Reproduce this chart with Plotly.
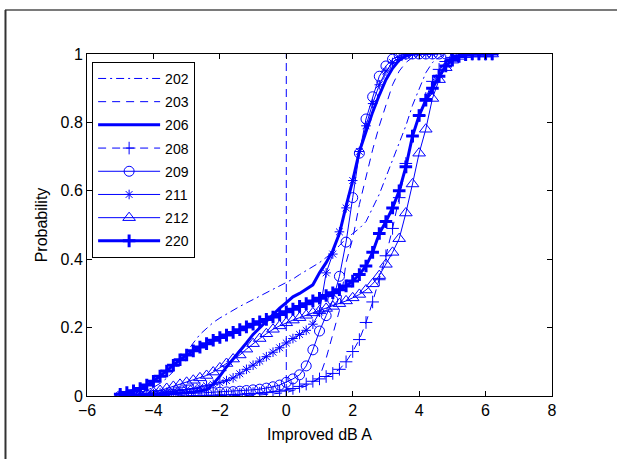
import plotly.graph_objects as go

# shared x grid (dB), step 0.2 from -5.0 to 6.2
X = [-5.0, -4.8, -4.6, -4.4, -4.2, -4.0, -3.8, -3.6, -3.4, -3.2,
     -3.0, -2.8, -2.6, -2.4, -2.2, -2.0, -1.8, -1.6, -1.4, -1.2,
     -1.0, -0.8, -0.6, -0.4, -0.2, 0.0, 0.2, 0.4, 0.6, 0.8,
     1.0, 1.2, 1.4, 1.6, 1.8, 2.0, 2.2, 2.4, 2.6, 2.8,
     3.0, 3.2, 3.4, 3.6, 3.8, 4.0, 4.2, 4.4, 4.6, 4.8,
     5.0, 5.2, 5.4, 5.6, 5.8, 6.0, 6.2]

N = None
Y202 = [0.0, 0.002, 0.005, 0.01, 0.017, 0.025, 0.037, 0.052, 0.072, 0.1,
        0.128, 0.155, 0.18, 0.198, 0.215, 0.228, 0.24, 0.251, 0.262, 0.272,
        0.282, 0.292, 0.302, 0.312, 0.322, 0.332, 0.342, 0.355, 0.367, 0.378,
        0.39, 0.405, 0.42, 0.44, 0.46, 0.475, 0.49, 0.51, 0.55, 0.59,
        0.64, 0.69, 0.745, 0.79, 0.85, 0.9, 0.945, 0.975, 0.99, 1.0,
        N, N, N, N, N, N, N]
Y203 = [0.0, 0.0, 0.0, 0.0, 0.0, 0.0, 0.0, 0.0, 0.0, 0.0,
        0.0, 0.0, 0.001, 0.001, 0.001, 0.001, 0.001, 0.002, 0.002, 0.002,
        0.002, 0.003, 0.004, 0.006, 0.008, 0.01, 0.015, 0.022, 0.03, 0.04,
        0.055, 0.11, 0.18, 0.25, 0.39, 0.46, 0.56, 0.64, 0.72, 0.79,
        0.85, 0.91, 0.95, 0.975, 0.99, 1.0, N, N, N, N,
        N, N, N, N, N, N, N]
Y206 = [0.0, 0.0, 0.0, 0.001, 0.002, 0.003, 0.004, 0.005, 0.006, 0.008,
        0.01, 0.012, 0.014, 0.018, 0.035, 0.058, 0.085, 0.108, 0.13, 0.155,
        0.18, 0.2, 0.22, 0.24, 0.257, 0.273, 0.29, 0.3, 0.312, 0.325,
        0.36, 0.39, 0.425, 0.475, 0.555, 0.63, 0.715, 0.775, 0.83, 0.88,
        0.925, 0.958, 0.982, 0.994, 1.0, 1.0, N, N, N, N,
        N, N, N, N, N, N, N]
Y208 = [N, N, N, N, N, N, N, N, N, N,
        0.0, 0.001, 0.001, 0.002, 0.002, 0.003, 0.003, 0.004, 0.005, 0.006,
        0.007, 0.008, 0.01, 0.012, 0.014, 0.017, 0.022, 0.028, 0.035, 0.043,
        0.05, 0.057, 0.066, 0.078, 0.1, 0.13, 0.165, 0.215, 0.275, 0.34,
        0.41, 0.49, 0.58, 0.68, 0.76, 0.82, 0.87, 0.92, 0.955, 0.978,
        0.99, 0.997, 1.0, 1.0, 1.0, 1.0, 1.0]
Y209 = [0.0, 0.0, 0.0, 0.0, 0.001, 0.002, 0.002, 0.003, 0.004, 0.005,
        0.006, 0.007, 0.008, 0.009, 0.01, 0.011, 0.012, 0.013, 0.014, 0.016,
        0.018, 0.02, 0.023, 0.027, 0.032, 0.04, 0.05, 0.062, 0.088, 0.135,
        0.19, 0.235, 0.28, 0.35, 0.45, 0.58, 0.71, 0.81, 0.875, 0.935,
        0.965, 0.985, 0.995, 1.0, 1.0, 1.0, 1.0, 1.0, 1.0, 1.0,
        N, N, N, N, N, N, N]
Y211 = [0.0, 0.001, 0.002, 0.003, 0.005, 0.007, 0.009, 0.011, 0.013, 0.016,
        0.019, 0.022, 0.026, 0.03, 0.034, 0.039, 0.045, 0.053, 0.065, 0.078,
        0.09, 0.102, 0.115, 0.128, 0.141, 0.155, 0.168, 0.18, 0.192, 0.21,
        0.245, 0.36, 0.415, 0.48, 0.55, 0.63, 0.715, 0.79, 0.855, 0.91,
        0.95, 0.975, 0.99, 0.997, 1.0, 1.0, 1.0, 1.0, N, N,
        N, N, N, N, N, N, N]
Y212 = [0.0, 0.001, 0.003, 0.005, 0.008, 0.011, 0.016, 0.022, 0.028, 0.034,
        0.04, 0.046, 0.053, 0.06, 0.07, 0.082, 0.095, 0.108, 0.12, 0.137,
        0.153, 0.168, 0.182, 0.195, 0.205, 0.214, 0.222, 0.229, 0.236, 0.243,
        0.249, 0.256, 0.262, 0.27, 0.278, 0.287, 0.297, 0.31, 0.328, 0.352,
        0.385, 0.42, 0.46, 0.535, 0.62, 0.71, 0.78, 0.87, 0.925, 0.96,
        0.982, 0.993, 0.998, 1.0, 1.0, 1.0, 1.0]
Y220 = [0.005, 0.01, 0.015, 0.022, 0.032, 0.043, 0.058, 0.073, 0.09, 0.106,
        0.12, 0.132, 0.143, 0.153, 0.163, 0.171, 0.178, 0.186, 0.194, 0.202,
        0.21, 0.217, 0.224, 0.231, 0.238, 0.246, 0.254, 0.262, 0.27, 0.278,
        0.286, 0.294, 0.302, 0.311, 0.322, 0.336, 0.355, 0.38, 0.42, 0.475,
        0.51, 0.55, 0.6, 0.67, 0.76, 0.82, 0.865, 0.9, 0.935, 0.965,
        0.982, 0.993, 0.998, 1.0, 1.0, 1.0, 1.0]

REF_X = [0, 0]
REF_Y = [0, 1]

X_TICKS = [-6, -4, -2, 0, 2, 4, 6, 8]
Y_TICKS = [0, 0.2, 0.4, 0.6, 0.8, 1]
Y_TICKTEXT = ["0", "0.2", "0.4", "0.6", "0.8", "1"]

BLUE = "#0000ff"

series = [
    ("202", Y202, dict(width=1, dash="8px,4px,2px,4px"), None),
    ("203", Y203, dict(width=1, dash="8px,6px"), None),
    ("206", Y206, dict(width=3), None),
    ("208", Y208, dict(width=1, dash="8px,6px"), dict(symbol="cross-thin-open", size=9, lw=1)),
    ("209", Y209, dict(width=1), dict(symbol="circle-open", size=10, lw=1)),
    ("211", Y211, dict(width=1), dict(symbol="asterisk-open", size=8, lw=1)),
    ("212", Y212, dict(width=1), dict(symbol="triangle-up-open", size=11, lw=1)),
    ("220", Y220, dict(width=3), dict(symbol="cross-thin-open", size=9, lw=3)),
]

fig = go.Figure()

fig.add_trace(go.Scatter(x=REF_X, y=REF_Y, mode="lines", showlegend=False,
                         line=dict(color=BLUE, width=1, dash="8px,5px"),
                         hoverinfo="skip", legendgroup="ref"))

for name, ys, ln, mk in series:
    kw = dict(x=X, y=ys, name=name, legendgroup=name,
              line=dict(color=BLUE, **ln))
    if mk is None:
        kw["mode"] = "lines"
    else:
        kw["mode"] = "lines+markers"
        kw["marker"] = dict(symbol=mk["symbol"], size=mk["size"], color=BLUE,
                            line=dict(color=BLUE, width=mk["lw"]))
    fig.add_trace(go.Scatter(**kw))

axis_common = dict(showgrid=False, zeroline=False, showline=True, linecolor="black",
                   linewidth=1, mirror="ticks", ticks="inside", ticklen=5,
                   tickcolor="black", tickfont=dict(size=16, color="black"))

fig.update_xaxes(range=[-6, 8], tickvals=X_TICKS, **axis_common,
                 title=dict(text="Improved dB A", font=dict(size=16, color="black"), standoff=10))
fig.update_yaxes(range=[0, 1], tickvals=Y_TICKS, ticktext=Y_TICKTEXT,
                 **axis_common,
                 title=dict(text="Probability", font=dict(size=16, color="black"), standoff=8))

fig.update_layout(
    width=617, height=459,
    margin=dict(l=87, r=65, t=54, b=63),
    paper_bgcolor="white", plot_bgcolor="white",
    font=dict(family="Liberation Sans, Arial, sans-serif", size=16, color="black"),
    legend=dict(x=0.011, y=0.977, xanchor="left", yanchor="top",
                bordercolor="black", borderwidth=1, bgcolor="white",
                font=dict(size=14), itemwidth=62, tracegroupgap=2,
                traceorder="grouped"),
    shapes=[
        dict(type="line", xref="paper", yref="paper",
             x0=-0.1763, x1=1.14, y0=1.1287, y1=1.1287,
             line=dict(color="#7a7a7a", width=2)),
        dict(type="line", xref="paper", yref="paper",
             x0=-0.1753, x1=-0.1753, y0=1.1287, y1=-0.19,
             line=dict(color="#333333", width=2)),
    ],
)

fig.write_html("out.html")
